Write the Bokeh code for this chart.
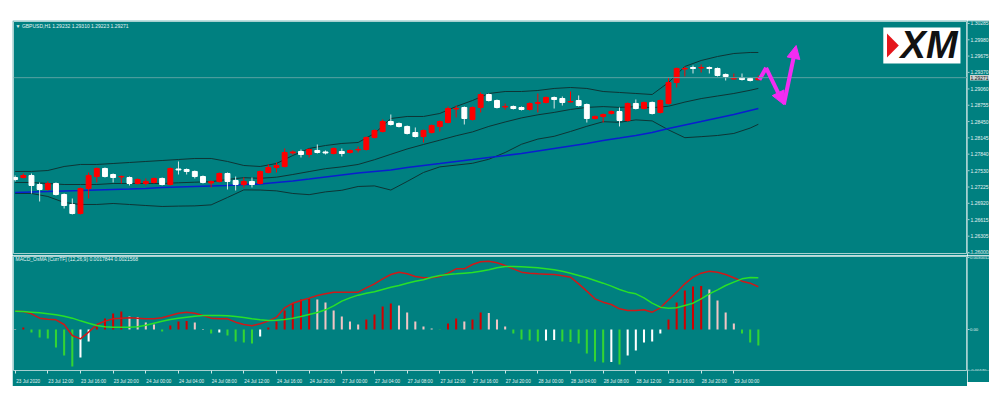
from bokeh.plotting import figure
from bokeh.models import (Range1d, FixedTicker, Span, Label,
                          Arrow, NormalHead, Spacer, ColumnDataSource)
from bokeh.layouts import column, row
from bokeh.core.properties import value
from bokeh.embed import file_html
from bokeh.resources import INLINE

# ---------------- data ----------------
opens = [1.27403, 1.27403, 1.27441, 1.27272, 1.27179, 1.27291, 1.27085, 1.26898, 1.26730, 1.27198,
         1.27422, 1.27572, 1.27459, 1.27413, 1.27403, 1.27291, 1.27291, 1.27310, 1.27385, 1.27272,
         1.27562, 1.27553, 1.27516, 1.27422, 1.27300, 1.27329, 1.27478, 1.27347, 1.27272, 1.27329,
         1.27291, 1.27497, 1.27590, 1.27609, 1.27862, 1.27890, 1.27834, 1.27909, 1.27881, 1.27852,
         1.27890, 1.27871, 1.27918, 1.27927, 1.28152, 1.28264, 1.28451, 1.28414, 1.28358, 1.28245,
         1.28170, 1.28245, 1.28358, 1.28432, 1.28685, 1.28713, 1.28489, 1.28713, 1.28956, 1.28844,
         1.28722, 1.28732, 1.28713, 1.28676, 1.28788, 1.28807, 1.28900, 1.28881, 1.28816, 1.28844,
         1.28769, 1.28507, 1.28545, 1.28601, 1.28638, 1.28470, 1.28788, 1.28694, 1.28807, 1.28620,
         1.28788, 1.29181, 1.29433, 1.29461, 1.29452, 1.29461, 1.29443, 1.29331, 1.29246, 1.29274,
         1.29256, 1.29232]
highs = [1.27441, 1.27478, 1.27478, 1.27310, 1.27329, 1.27310, 1.27104, 1.27010, 1.27216, 1.27497,
         1.27590, 1.27590, 1.27478, 1.27441, 1.27422, 1.27385, 1.27385, 1.27403, 1.27403, 1.27590,
         1.27703, 1.27572, 1.27534, 1.27441, 1.27347, 1.27497, 1.27497, 1.27422, 1.27403, 1.27403,
         1.27534, 1.27647, 1.27684, 1.27946, 1.27909, 1.27927, 1.27946, 1.28021, 1.27909, 1.27965,
         1.27946, 1.27927, 1.27983, 1.28170, 1.28301, 1.28489, 1.28582, 1.28432, 1.28376, 1.28339,
         1.28301, 1.28395, 1.28470, 1.28732, 1.28750, 1.28732, 1.28732, 1.28994, 1.28975, 1.28863,
         1.28788, 1.28750, 1.28732, 1.28807, 1.28975, 1.28919, 1.28919, 1.28919, 1.29012, 1.28938,
         1.28788, 1.28563, 1.28601, 1.28657, 1.28713, 1.28807, 1.28863, 1.28825, 1.28825, 1.28863,
         1.29274, 1.29461, 1.29480, 1.29499, 1.29518, 1.29480, 1.29461, 1.29349, 1.29349, 1.29349,
         1.29274, 1.29310]
lows = [1.27329, 1.27385, 1.27104, 1.26954, 1.27160, 1.27066, 1.26823, 1.26711, 1.26711, 1.27010,
        1.27310, 1.27403, 1.27310, 1.27291, 1.27254, 1.27272, 1.27254, 1.27291, 1.27254, 1.27254,
        1.27459, 1.27459, 1.27385, 1.27291, 1.27216, 1.27310, 1.27179, 1.27160, 1.27216, 1.27216,
        1.27272, 1.27478, 1.27497, 1.27590, 1.27834, 1.27778, 1.27778, 1.27852, 1.27834, 1.27834,
        1.27796, 1.27852, 1.27871, 1.27909, 1.28133, 1.28245, 1.28376, 1.28339, 1.28208, 1.28152,
        1.28058, 1.28227, 1.28264, 1.28414, 1.28526, 1.28395, 1.28470, 1.28620, 1.28825, 1.28694,
        1.28676, 1.28676, 1.28657, 1.28657, 1.28620, 1.28788, 1.28694, 1.28750, 1.28807, 1.28732,
        1.28432, 1.28489, 1.28432, 1.28582, 1.28358, 1.28451, 1.28676, 1.28676, 1.28582, 1.28601,
        1.28769, 1.29087, 1.29293, 1.29349, 1.29368, 1.29349, 1.29293, 1.29218, 1.29237, 1.29218,
        1.29200, 1.29223]
closes = [1.27366, 1.27441, 1.27254, 1.27179, 1.27291, 1.27085, 1.26879, 1.26730, 1.27198, 1.27441,
          1.27572, 1.27422, 1.27403, 1.27422, 1.27291, 1.27366, 1.27329, 1.27385, 1.27272, 1.27572,
          1.27544, 1.27516, 1.27422, 1.27310, 1.27329, 1.27478, 1.27329, 1.27272, 1.27329, 1.27272,
          1.27516, 1.27590, 1.27628, 1.27871, 1.27881, 1.27834, 1.27927, 1.27871, 1.27862, 1.27946,
          1.27852, 1.27909, 1.27927, 1.28152, 1.28283, 1.28451, 1.28395, 1.28358, 1.28227, 1.28170,
          1.28283, 1.28376, 1.28451, 1.28694, 1.28694, 1.28507, 1.28713, 1.28956, 1.28844, 1.28713,
          1.28732, 1.28694, 1.28676, 1.28788, 1.28807, 1.28900, 1.28863, 1.28807, 1.28825, 1.28750,
          1.28507, 1.28545, 1.28582, 1.28638, 1.28470, 1.28788, 1.28694, 1.28807, 1.28601, 1.28844,
          1.29181, 1.29443, 1.29443, 1.29443, 1.29461, 1.29443, 1.29312, 1.29293, 1.29256, 1.29237,
          1.29218, 1.29271]

# Bollinger bands and moving average, read every second bar (last bar added)
band_x = list(range(0, 92, 2)) + [91]
bb_upper = [1.27516, 1.27516, 1.27534, 1.27609, 1.27647, 1.27647, 1.27665, 1.27684, 1.27703, 1.27721,
            1.27740, 1.27759, 1.27759, 1.27703, 1.27628, 1.27609, 1.27665, 1.27815, 1.27946, 1.28002,
            1.28040, 1.28058, 1.28227, 1.28507, 1.28545, 1.28545, 1.28601, 1.28732, 1.28844, 1.28975,
            1.29012, 1.29012, 1.29031, 1.29069, 1.29087, 1.29069, 1.29012, 1.28994, 1.28975, 1.28956,
            1.29181, 1.29480, 1.29592, 1.29667, 1.29723, 1.29742, 1.29742]
bb_middle = [1.27310, 1.27310, 1.27291, 1.27272, 1.27272, 1.27272, 1.27291, 1.27291, 1.27291, 1.27291,
             1.27304, 1.27315, 1.27325, 1.27366, 1.27400, 1.27388, 1.27409, 1.27459, 1.27514, 1.27568,
             1.27602, 1.27647, 1.27736, 1.27837, 1.27937, 1.28021, 1.28101, 1.28184, 1.28256, 1.28359,
             1.28442, 1.28518, 1.28576, 1.28621, 1.28676, 1.28715, 1.28730, 1.28715, 1.28728, 1.28709,
             1.28737, 1.28814, 1.28880, 1.28928, 1.28975, 1.29035, 1.29070]
bb_lower = [1.27104, 1.27104, 1.27048, 1.26936, 1.26898, 1.26898, 1.26917, 1.26898, 1.26879, 1.26861,
            1.26868, 1.26872, 1.26891, 1.27029, 1.27171, 1.27168, 1.27153, 1.27104, 1.27082, 1.27134,
            1.27164, 1.27235, 1.27246, 1.27168, 1.27329, 1.27497, 1.27602, 1.27635, 1.27669, 1.27744,
            1.27871, 1.28025, 1.28122, 1.28174, 1.28264, 1.28361, 1.28447, 1.28436, 1.28481, 1.28462,
            1.28294, 1.28148, 1.28167, 1.28189, 1.28227, 1.28328, 1.28399]
ma_slow = [1.27123, 1.27132, 1.27141, 1.27151, 1.27160, 1.27170, 1.27179, 1.27188, 1.27198, 1.27216,
           1.27226, 1.27235, 1.27244, 1.27254, 1.27272, 1.27282, 1.27310, 1.27338, 1.27375, 1.27413,
           1.27450, 1.27488, 1.27516, 1.27544, 1.27590, 1.27628, 1.27665, 1.27703, 1.27740, 1.27778,
           1.27815, 1.27852, 1.27899, 1.27946, 1.27993, 1.28040, 1.28096, 1.28142, 1.28189, 1.28245,
           1.28320, 1.28386, 1.28451, 1.28517, 1.28582, 1.28657, 1.28694]

# MACD OsMA panel
osma = [0.000021, 0.000083, -0.000125, -0.000334, -0.000375, -0.000751, -0.001084, -0.001543, -0.001168, -0.0005,
        0.000125, 0.000459, 0.000667, 0.000751, 0.000542, 0.000521, 0.000292, 0.000209, -0.000083, 0.000167,
        0.000334, 0.000354, 0.000292, 0.000021, -0.000167, -0.000125, -0.00025, -0.0005, -0.000542, -0.000584,
        -0.000292, 0.000083, 0.000334, 0.000792, 0.001084, 0.001251, 0.001293, 0.001251, 0.001126, 0.000792,
        0.000542, 0.000334, 0.000209, 0.000417, 0.000626, 0.000959, 0.001084, 0.001001, 0.000709, 0.000334,
        0.000125, 0.000042, -0.000013, 0.00025, 0.000459, 0.000334, 0.000417, 0.000709, 0.000688, 0.000417,
        0.000125, -0.000167, -0.000417, -0.000459, -0.0005, -0.000459, -0.000438, -0.0005, -0.000521, -0.000584,
        -0.001001, -0.001334, -0.001376, -0.001355, -0.00146, -0.001084, -0.000876, -0.000542, -0.0005, -0.000167,
        0.000417, 0.001126, 0.001626, 0.001793, 0.001814, 0.001668, 0.001209, 0.000709, 0.00025, -0.000167,
        -0.000542, -0.000667]
macd_line = [0.000765, 0.000751, 0.000653, 0.000473, 0.000431, 0.000403, 0.000209, -0.000250, -0.000389, -0.000111,
             0.000209, 0.000348, 0.000445, 0.000473, 0.000487, 0.000473, 0.000445, 0.000445, 0.000487, 0.000584,
             0.000681, 0.000723, 0.000681, 0.000584, 0.000473, 0.000445, 0.000445, 0.000306, 0.000209, 0.000153,
             0.000236, 0.000348, 0.000514, 0.000904, 0.001098, 0.001209, 0.001307, 0.001418, 0.001487, 0.001557,
             0.001557, 0.001557, 0.001557, 0.001738, 0.001904, 0.002113, 0.002294, 0.002391, 0.002321, 0.002210,
             0.002155, 0.002155, 0.002210, 0.002349, 0.002530, 0.002530, 0.002711, 0.002822, 0.002850, 0.002780,
             0.002669, 0.002530, 0.002391, 0.002349, 0.002321, 0.002307, 0.002294, 0.002238, 0.002182, 0.001904,
             0.001599, 0.001279, 0.001140, 0.001043, 0.000862, 0.000792, 0.000792, 0.000820, 0.000723, 0.000904,
             0.001237, 0.001557, 0.001904, 0.002182, 0.002349, 0.002433, 0.002391, 0.002294, 0.002155, 0.002016,
             0.001932, 0.001784]
signal_line = [0.000765, 0.000751, 0.000723, 0.000695, 0.000653, 0.000612, 0.000556, 0.000473, 0.000361, 0.000264,
               0.000167, 0.000111, 0.000097, 0.000097, 0.000097, 0.000111, 0.000181, 0.000264, 0.000348, 0.000417,
               0.000473, 0.000514, 0.000556, 0.000584, 0.000584, 0.000584, 0.000570, 0.000542, 0.000500, 0.000445,
               0.000403, 0.000375, 0.000389, 0.000417, 0.000473, 0.000542, 0.000626, 0.000709, 0.000820, 0.000987,
               0.001182, 0.001320, 0.001432, 0.001515, 0.001571, 0.001668, 0.001765, 0.001835, 0.001932, 0.002016,
               0.002071, 0.002182, 0.002252, 0.002294, 0.002321, 0.002349, 0.002377, 0.002433, 0.002488, 0.002572,
               0.002627, 0.002627, 0.002613, 0.002599, 0.002572, 0.002530, 0.002488, 0.002433, 0.002349, 0.002252,
               0.002155, 0.002043, 0.001932, 0.001807, 0.001668, 0.001557, 0.001487, 0.001321, 0.001098, 0.000931,
               0.000890, 0.000904, 0.001001, 0.001098, 0.001279, 0.001487, 0.001654, 0.001835, 0.001974, 0.002113,
               0.002168, 0.002157]

price_ticks = [1.26000, 1.26305, 1.26615, 1.26920, 1.27225, 1.27530, 1.27840, 1.28145,
               1.28450, 1.28755, 1.29060, 1.29370, 1.29675, 1.29980, 1.30285]
price_tick_labels = ["1.26000", "1.26305", "1.26615", "1.26920", "1.27225", "1.27530", "1.27840",
                     "1.28145", "1.28450", "1.28755", "1.29060", "1.29370", "1.29675", "1.29980", "1.30285"]
time_tick_bars = list(range(0, 92, 4))
time_labels = ["23 Jul 2020", "23 Jul 12:00", "23 Jul 16:00", "23 Jul 20:00", "24 Jul 00:00",
               "24 Jul 04:00", "24 Jul 08:00", "24 Jul 12:00", "24 Jul 16:00", "24 Jul 20:00",
               "27 Jul 00:00", "27 Jul 04:00", "27 Jul 08:00", "27 Jul 12:00", "27 Jul 16:00",
               "27 Jul 20:00", "28 Jul 00:00", "28 Jul 04:00", "28 Jul 08:00", "28 Jul 12:00",
               "28 Jul 16:00", "28 Jul 20:00", "29 Jul 00:00"]
macd_ticks = [0.0030012, 0.0, -0.0017]
macd_tick_labels = ["0.0030012", "0.00", "-0.00170"]

# projected path (magenta zig-zag)
proj_x = [91.13, 91.95, 94.12, 95.63]
proj_y = [1.29231, 1.29456, 1.28769, 1.29873]

title_text = "\u25bc GBPUSD,H1  1.29232 1.29310 1.29223 1.29271"
macd_text = "MACD_OsMA [CurrTF] (12,26,9) 0.0017844 0.0021568"
bid_price = 1.29271
bid_text = "1.29271"

# ---------------- style ----------------
BG = "#008080"
EDGE = "#a6d0d0"
TXT = "#e4f2f2"
FONT = "Liberation Sans"
BULL = "#ff0000"
BEAR = "#ffffff"
PINK = "#f22cf2"
SIDE_W = 22

idx = list(range(len(opens)))
x0 = -0.2
x1 = 116.61


def side_panel(y_range, fh, top, bottom):
    s = figure(frame_width=SIDE_W, frame_height=fh, x_range=Range1d(0, SIDE_W), y_range=y_range,
               x_axis_location=None, y_axis_location=None, output_backend="svg",
               toolbar_location=None, background_fill_color=BG, border_fill_color=BG,
               min_border_left=0, min_border_right=0, min_border_top=top, min_border_bottom=bottom,
               outline_line_color=None)
    s.grid.visible = False
    return s


# ---------------- price panel ----------------
p1 = figure(frame_width=954, frame_height=232, x_range=Range1d(x0, x1),
            y_range=Range1d(1.25981, 1.30322), x_axis_location=None, y_axis_location=None,
            output_backend="svg", toolbar_location=None,
            background_fill_color=BG, border_fill_color=BG,
            min_border_left=1, min_border_top=1, min_border_bottom=2, min_border_right=0,
            outline_line_color=EDGE)
p1.grid.visible = False

p1.add_layout(Span(location=bid_price, dimension="width", line_color="#5aa2a2", line_width=1))

is_bull = [c >= o for o, c in zip(opens, closes)]
src = ColumnDataSource(dict(
    x=idx, h=highs, l=lows,
    top=[max(o, c) for o, c in zip(opens, closes)],
    bottom=[min(o, c) for o, c in zip(opens, closes)],
    body=[BULL if b else BEAR for b in is_bull],
    wick=[BULL if b else "#d9e6e6" for b in is_bull],
))

p1.line(band_x, bb_upper, line_color="#0e3434", line_width=1)
p1.line(band_x, bb_middle, line_color="#0e3434", line_width=1)
p1.line(band_x, bb_lower, line_color="#0e3434", line_width=1)
p1.line(band_x, ma_slow, line_color="#0a1ecf", line_width=1.6)

p1.segment(x0="x", y0="l", x1="x", y1="h", line_color="wick", line_width=1, source=src)
p1.vbar(x="x", width=0.6, top="top", bottom="bottom", fill_color="body", line_color="body",
        line_width=1, source=src)

p1.line(proj_x[:2], proj_y[:2], line_color=PINK, line_width=4)
p1.add_layout(Arrow(end=NormalHead(size=13, fill_color=PINK, line_color=PINK),
                    x_start=proj_x[1], y_start=proj_y[1], x_end=proj_x[2], y_end=proj_y[2],
                    line_color=PINK, line_width=4))
p1.add_layout(Arrow(end=NormalHead(size=13, fill_color=PINK, line_color=PINK),
                    x_start=proj_x[2], y_start=proj_y[2], x_end=proj_x[3], y_end=proj_y[3],
                    line_color=PINK, line_width=4))

# XM logo
p1.quad(left=[106.3], right=[115.75], top=[1.3021], bottom=[1.29536],
        fill_color="white", line_color=None)
p1.patch([106.75, 106.75, 108.2], [1.30098, 1.29649, 1.29873], fill_color="#e4161b", line_color=None)
p1.text(x=[111.9], y=[1.29873], text=["XM"], text_align="center", text_baseline="middle",
        text_font=value(FONT), text_font_style="bold italic", text_font_size="38px",
        text_color="#111111")

p1.add_layout(Label(x=0.05, y=1.30247, text=title_text, text_font=FONT, text_font_size="5px",
                    text_color=TXT, text_baseline="middle"))

# price scale strip
s1 = side_panel(p1.y_range, 232, 1, 2)
s1.segment(x0=0, y0=price_ticks, x1=2, y1=price_ticks, line_color=EDGE, line_width=1)
s1.text(x=3, y=price_ticks, text=price_tick_labels, text_baseline="middle",
        text_font=value(FONT), text_font_size="5px", text_color=TXT)
s1.quad(left=[2.5], right=[SIDE_W], top=[bid_price + 0.00052], bottom=[bid_price - 0.00052],
        fill_color="#c8d2d2", line_color=None)
s1.text(x=[3], y=[bid_price], text=[bid_text], text_baseline="middle",
        text_font=value(FONT), text_font_size="5px", text_color="#101010")

# ---------------- MACD panel ----------------
p2 = figure(frame_width=954, frame_height=114, x_range=p1.x_range,
            y_range=Range1d(-0.00171, 0.003044), y_axis_location=None,
            output_backend="svg", toolbar_location=None,
            background_fill_color=BG, border_fill_color=BG,
            min_border_left=1, min_border_top=1, min_border_bottom=12, min_border_right=0,
            outline_line_color=EDGE)
p2.grid.visible = False

hist_colors = []
prev = None
for h in osma:
    if h >= 0:
        hist_colors.append("#d00000" if (prev is not None and h >= prev) else "#f2c4c4")
    else:
        hist_colors.append("#33d433" if (prev is None or h <= prev) else "#ffffff")
    prev = h

p2.vbar(x=idx, width=0.25, top=osma, bottom=0, fill_color=hist_colors, line_color=None)
p2.line(idx, macd_line, line_color="#d01818", line_width=1.5)
p2.line(idx, signal_line, line_color="#28e028", line_width=1.5)

label_pos = [b + 1.6 for b in time_tick_bars]
axx = p2.xaxis[0]
axx.ticker = FixedTicker(ticks=label_pos, minor_ticks=time_tick_bars)
axx.major_label_overrides = {t: s for t, s in zip(label_pos, time_labels)}
axx.major_label_text_font_size = "4.6px"
axx.major_label_text_font = FONT
axx.major_label_text_color = TXT
axx.major_tick_line_color = None
axx.minor_tick_line_color = "#cfe6e6"
axx.minor_tick_out = 3
axx.minor_tick_in = 0
axx.axis_line_color = None
axx.major_label_standoff = 2

p2.add_layout(Label(x=0.05, y=0.00292, text=macd_text, text_font=FONT, text_font_size="5px",
                    text_color=TXT, text_baseline="middle"))

s2 = side_panel(p2.y_range, 114, 1, 12)
s2.segment(x0=0, y0=macd_ticks, x1=2, y1=macd_ticks, line_color=EDGE, line_width=1)
s2.text(x=2.4, y=macd_ticks, text=macd_tick_labels, text_baseline="middle",
        text_font=value(FONT), text_font_size="4.2px", text_color=TXT)

layout = row(Spacer(width=12, height=10),
             column(Spacer(width=10, height=20), row(p1, s1), row(p2, s2)))
open("out.html", "w").write(file_html(layout, INLINE))
